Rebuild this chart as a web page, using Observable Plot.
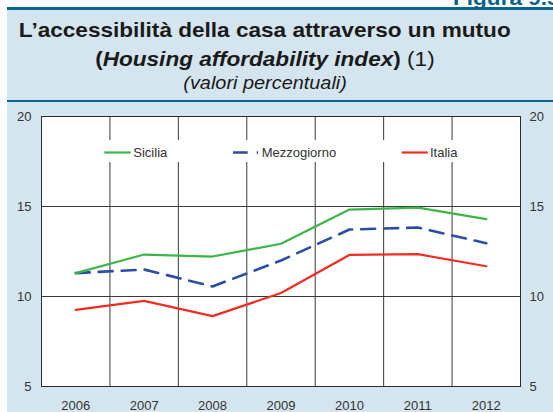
<!DOCTYPE html>
<html><head><meta charset="utf-8">
<script src="https://cdn.jsdelivr.net/npm/d3@7"></script>
<script src="https://cdn.jsdelivr.net/npm/@observablehq/plot@0.6"></script>
<style>
body{margin:0;width:553px;height:412px;overflow:hidden;position:relative;background:#fff;font-family:"Liberation Sans",Arial,Helvetica,sans-serif;}
#fig{position:absolute;left:453px;top:-13px;font-weight:bold;font-size:21px;line-height:21px;color:#0b5f8a;white-space:nowrap;transform:scaleX(1.075);transform-origin:left top;}
#panel{position:absolute;left:7px;right:0;top:10px;bottom:0;background:#d5e5ef;}
#rule1{position:absolute;left:7px;right:0;top:7px;height:3px;background:#0a6591;}
#rule2{position:absolute;left:7px;right:0;top:100px;height:2px;background:#0a6591;}
.t{position:absolute;left:0;width:530px;text-align:center;color:#1a1a1a;white-space:nowrap;}
.t span.s{display:inline-block;transform:scaleX(1.075);transform-origin:center top;}
#t1{top:19.2px;font-size:21px;line-height:21px;font-weight:bold;}
#t2{top:47.7px;font-size:21px;line-height:21px;}
#t3{top:73.8px;font-size:18.5px;line-height:18.5px;font-style:italic;}
#chart{position:absolute;left:0;top:102px;}
#legend{position:absolute;left:90px;top:140px;}
</style>
</head><body>
<div id="panel"></div>
<div id="rule1"></div>
<div id="fig">Figura 9.5</div>
<div id="rule2"></div>
<div class="t" id="t1"><span class="s">L’accessibilità della casa attraverso un mutuo</span></div>
<div class="t" id="t2"><span class="s"><b>(<i>Housing affordability index</i>)</b> (1)</span></div>
<div class="t" id="t3"><span class="s">(valori percentuali)</span></div>
<div id="chart"></div>
<svg id="legend" width="390" height="22"></svg>
<script>
const years = [2006, 2007, 2008, 2009, 2010, 2011, 2012];
const sicilia = [11.3, 12.33, 12.22, 12.93, 14.83, 14.94, 14.3];
const mezzogiorno = [11.3, 11.5, 10.56, 12.0, 13.72, 13.83, 12.96];
const italia = [9.26, 9.76, 8.91, 10.19, 12.31, 12.35, 11.68];
const yTicks = [5, 10, 15, 20];
const seriesNames = ["Sicilia", "Mezzogiorno", "Italia"];
const seriesColors = ["#3db54a", "#2b4fa6", "#ee2e24"];
const seriesValues = [sicilia, mezzogiorno, italia];

const rows = seriesNames.flatMap((name, i) => years.map((yr, j) => ({series: name, year: yr, value: seriesValues[i][j]})));
const boundaries = years.slice(1).map(y => y - 0.5);

const plot = Plot.plot({
  width: 553, height: 310,
  marginLeft: 41, marginRight: 33, marginTop: 14, marginBottom: 26,
  style: {background: "transparent", fontFamily: "'Liberation Sans', Arial, sans-serif", fontSize: "13px", color: "#333", overflow: "visible"},
  x: {domain: [years[0] - 0.5, years[years.length - 1] + 0.5]},
  y: {domain: [5, 20]},
  marks: [
    Plot.frame({fill: "white", stroke: "none"}),
    Plot.ruleX(boundaries, {stroke: "#3a3a3a", strokeWidth: 1}),
    Plot.ruleY(yTicks.slice(1, -1), {stroke: "#3a3a3a", strokeWidth: 1}),
    Plot.frame({stroke: "#2a2a2a", strokeWidth: 1}),
    Plot.axisX({ticks: years, tickFormat: d => String(d), tickSize: 0, tickPadding: 14, label: null}),
    Plot.axisY({anchor: "left", ticks: yTicks, tickSize: 0, tickPadding: 10, label: null}),
    Plot.axisY({anchor: "right", ticks: yTicks, tickSize: 0, tickPadding: 9, label: null}),
    Plot.line(rows.filter(d => d.series === "Italia"), {x: "year", y: "value", stroke: seriesColors[2], strokeWidth: 2.2}),
    Plot.line(rows.filter(d => d.series === "Mezzogiorno"), {x: "year", y: "value", stroke: seriesColors[1], strokeWidth: 2.6, strokeDasharray: "14,9"}),
    Plot.line(rows.filter(d => d.series === "Sicilia"), {x: "year", y: "value", stroke: seriesColors[0], strokeWidth: 2.2})
  ]
});
document.getElementById("chart").appendChild(plot);

// legend (inside plot area, white box interrupting gridlines)
const lg = d3.select("#legend");
lg.append("rect").attr("width", 390).attr("height", 22).attr("fill", "white");
const swatchX = [14.3, 143, 311.7];
const swatchW = [26.4, 25, 26];
const textX = [43.3, 171.7, 340];
seriesNames.forEach((name, i) => {
  const l = lg.append("line").attr("x1", swatchX[i]).attr("x2", swatchX[i] + swatchW[i])
    .attr("y1", 12.5).attr("y2", 12.5).attr("stroke", seriesColors[i])
    .attr("stroke-width", i === 1 ? 2.6 : 2.2);
  if (i === 1) l.attr("stroke-dasharray", "14.7,9");
  lg.append("text").attr("x", textX[i]).attr("y", 17.3).attr("fill", "#333")
    .attr("font-size", 13).attr("font-family", "'Liberation Sans', Arial, sans-serif").text(name);
});
</script>
</body></html>
